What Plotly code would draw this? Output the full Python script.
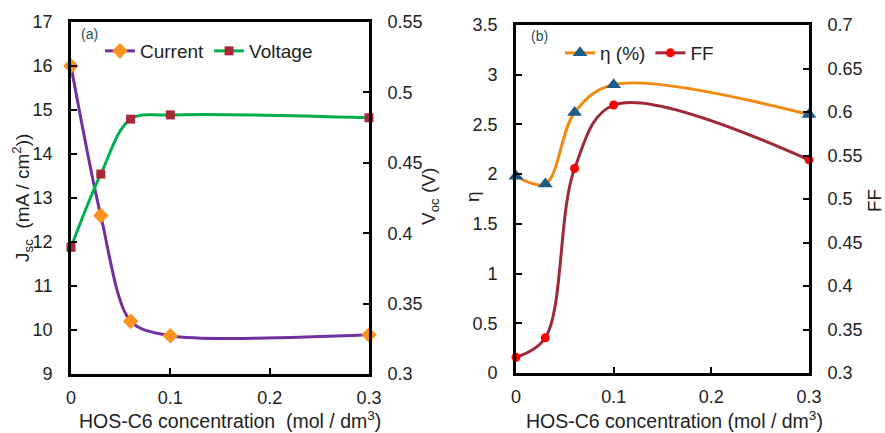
import plotly.graph_objects as go

# ---- data ----
conc = [0, 0.03, 0.06, 0.1, 0.3]
current = [16.0, 12.6, 10.2, 9.87, 9.89]
voltage = [0.390, 0.442, 0.481, 0.484, 0.482]
eta = [1.98, 1.90, 2.62, 2.90, 2.60]
ff = [0.318, 0.3405, 0.535, 0.608, 0.545]

x_ticks = [0, 0.1, 0.2, 0.3]

FONT = "Liberation Sans, Arial, sans-serif"
W, H = 885, 433

fig = go.Figure()

fig.add_trace(go.Scatter(x=conc, y=current, name="Current", mode="lines+markers",
                         line=dict(color="#7030A0", width=3, shape="spline", smoothing=0.85),
                         marker=dict(symbol="diamond", size=12, color="#F7931E"),
                         xaxis="x", yaxis="y", legend="legend", cliponaxis=False))
fig.add_trace(go.Scatter(x=conc, y=voltage, name="Voltage", mode="lines+markers",
                         line=dict(color="#00B050", width=3, shape="spline", smoothing=1.0),
                         marker=dict(symbol="square", size=9, color="#A52A36"),
                         xaxis="x", yaxis="y2", legend="legend", cliponaxis=False))
fig.add_trace(go.Scatter(x=conc, y=eta, name="η (%)", mode="lines+markers",
                         line=dict(color="#F28A12", width=3, shape="spline", smoothing=1.0),
                         marker=dict(symbol="triangle-up", size=13, color="#1F5C85"),
                         xaxis="x2", yaxis="y3", legend="legend2", cliponaxis=False))
fig.add_trace(go.Scatter(x=conc, y=ff, name="FF", mode="lines+markers",
                         line=dict(color="#9E2A3A", width=3, shape="spline", smoothing=1.0),
                         marker=dict(symbol="circle", size=9, color="#FF0000"),
                         xaxis="x2", yaxis="y4", legend="legend2", cliponaxis=False))

def px(v):
    return v / W

def py(v):
    return 1 - v / H

axis_common = dict(showline=True, linecolor="black", linewidth=2.8, ticks="inside",
                   ticklen=6, tickwidth=2, tickcolor="black", showgrid=False, zeroline=False,
                   automargin=False,
                   tickfont=dict(family=FONT, size=18, color="#222222"))

ld = [px(71), px(369)]
rd = [px(516), px(809)]
lyd = [py(374), py(22)]
ryd = [py(373), py(25)]

fig.update_layout(
    width=W, height=H, margin=dict(l=0, r=0, t=0, b=0, autoexpand=False),
    paper_bgcolor="white", plot_bgcolor="white",
    font=dict(family=FONT, color="#222222"),
    xaxis=dict(domain=ld, range=[0, 0.3], tickvals=x_ticks, mirror=True, anchor="y",
               ticklabelstandoff=5, **axis_common),
    yaxis=dict(domain=lyd, range=[9, 17], dtick=1, anchor="x", ticklabelstandoff=12, **axis_common),
    yaxis2=dict(domain=lyd, range=[0.3, 0.55], dtick=0.05, anchor="x", overlaying="y",
                side="right", ticklabelstandoff=12, **axis_common),
    xaxis2=dict(domain=rd, range=[0, 0.3], tickvals=x_ticks, mirror=True, anchor="y3",
                ticklabelstandoff=5, **axis_common),
    yaxis3=dict(domain=ryd, range=[0, 3.5], dtick=0.5, anchor="x2", ticklabelstandoff=12, **axis_common),
    yaxis4=dict(domain=ryd, range=[0.3, 0.7], dtick=0.05, anchor="x2", overlaying="y3",
                side="right", ticklabelstandoff=12, **axis_common),
    legend=dict(orientation="h", x=px(100), y=py(32), xanchor="left", yanchor="top",
                font=dict(family=FONT, size=19, color="#222222"), bgcolor="rgba(0,0,0,0)",
                itemwidth=30, tracegroupgap=0),
    legend2=dict(orientation="h", x=px(560), y=py(34), xanchor="left", yanchor="top",
                 font=dict(family=FONT, size=19, color="#222222"), bgcolor="rgba(0,0,0,0)",
                 itemwidth=30, tracegroupgap=0),
)

ann = []
def add_text(text, x, y, size, angle=0, color="#222222", yanchor="middle"):
    ann.append(dict(text=text, x=px(x), y=py(y), xref="paper", yref="paper",
                    showarrow=False, textangle=angle, xanchor="center", yanchor=yanchor,
                    font=dict(family=FONT, size=size, color=color)))

add_text("J<sub>sc</sub>  (mA / cm<sup>2</sup>))", 22, 198, 19, -90)
add_text("V<sub>oc</sub> (V)", 430, 197, 19, -90)
add_text("η", 472, 197, 19, -90)
add_text("FF", 874, 201, 19, -90)
add_text("HOS-C6 concentration  (mol / dm<sup>3</sup>)", 230, 434, 19.5, yanchor="bottom")
add_text("HOS-C6 concentration (mol / dm<sup>3</sup>)", 674, 434, 19.5, yanchor="bottom")
add_text("(a)", 89, 34, 14, 0, "#1F4E5F")
add_text("(b)", 539, 36, 14, 0, "#1F4E5F")
fig.update_layout(annotations=ann)

fig.write_html("out.html")
